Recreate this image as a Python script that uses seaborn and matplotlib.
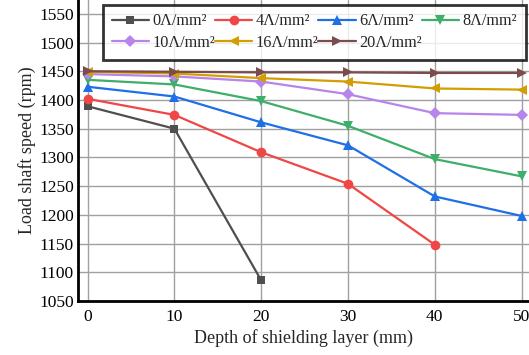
import matplotlib
matplotlib.use("Agg")
import matplotlib.pyplot as plt
import seaborn as sns
import pandas as pd

# Depth of shielding layer (mm)
depth = [0, 10, 20, 30, 40, 50]

# Load shaft speed (rpm) for each current density
speed_0 = [1389, 1350, 1086]
speed_4 = [1402, 1374, 1309, 1254, 1148]
speed_6 = [1423, 1406, 1361, 1321, 1232, 1198]
speed_8 = [1435, 1427, 1398, 1355, 1297, 1267]
speed_10 = [1445, 1441, 1432, 1410, 1377, 1374]
speed_16 = [1449, 1446, 1438, 1432, 1420, 1418]
speed_20 = [1450, 1449, 1448, 1448, 1447, 1447]

labels = ["0Λ/mm²", "4Λ/mm²", "6Λ/mm²", "8Λ/mm²", "10Λ/mm²", "16Λ/mm²", "20Λ/mm²"]
series = [speed_0, speed_4, speed_6, speed_8, speed_10, speed_16, speed_20]

colors = ["#4f4f4f", "#f04646", "#1f6fe6", "#3fae6a", "#b784ec", "#d39e00", "#7a4c4c"]
markers = ["s", "o", "^", "v", "D", "<", ">"]
msizes = [6, 7, 7, 7, 6, 7, 7]

rows = []
for lab, vals in zip(labels, series):
    for d, v in zip(depth, vals):
        rows.append({"depth": d, "speed": v, "density": lab})
df = pd.DataFrame(rows)

sns.set_theme(style="white")
plt.rcParams["font.family"] = ["Liberation Serif", "DejaVu Serif"]

fig = plt.figure(figsize=(5.29, 3.55), dpi=100)
ax = fig.add_axes([78 / 529, 1 - 301 / 355, (529 - 78) / 529, 301 / 355])

for lab, c, m, ms in zip(labels, colors, markers, msizes):
    sub = df[df["density"] == lab]
    sns.lineplot(data=sub, x="depth", y="speed", ax=ax, color=c, marker=m,
                 markersize=ms, markeredgewidth=0, linewidth=1.6, label=lab,
                 legend=False)

ax.set_xlim(-1.1, 50.85)
ax.set_ylim(1050, 1574)
ax.set_xticks(depth)
ax.set_yticks(range(1050, 1551, 50))
ax.grid(True, color="#a0a0a0", linewidth=1.0)
ax.set_axisbelow(True)
for s in ["top", "right"]:
    ax.spines[s].set_visible(False)
for s in ["left", "bottom"]:
    ax.spines[s].set_color("black")
    ax.spines[s].set_linewidth(2.0)
ax.tick_params(axis="both", labelsize=12.5, colors="black", length=0)
ax.tick_params(axis="x", pad=6)
ax.tick_params(axis="y", pad=3)
ax.set_xlabel("Depth of shielding layer (mm)", fontsize=13, labelpad=3)
ax.set_ylabel("Load shaft speed (rpm)", fontsize=13, labelpad=2)

handles = ax.get_lines()
order = [0, 4, 1, 5, 2, 6, 3]
leg = ax.legend([handles[i] for i in order], [labels[i] for i in order],
                ncol=4, loc="upper left", bbox_to_anchor=(0.055, 0.985),
                fontsize=11.7, frameon=True, fancybox=False, edgecolor="black",
                handlelength=2.3, handletextpad=0.2, columnspacing=0.0,
                borderpad=0.55, labelspacing=0.35, borderaxespad=0)
leg.get_frame().set_linewidth(2.0)

fig.savefig("out.png", dpi=100)
